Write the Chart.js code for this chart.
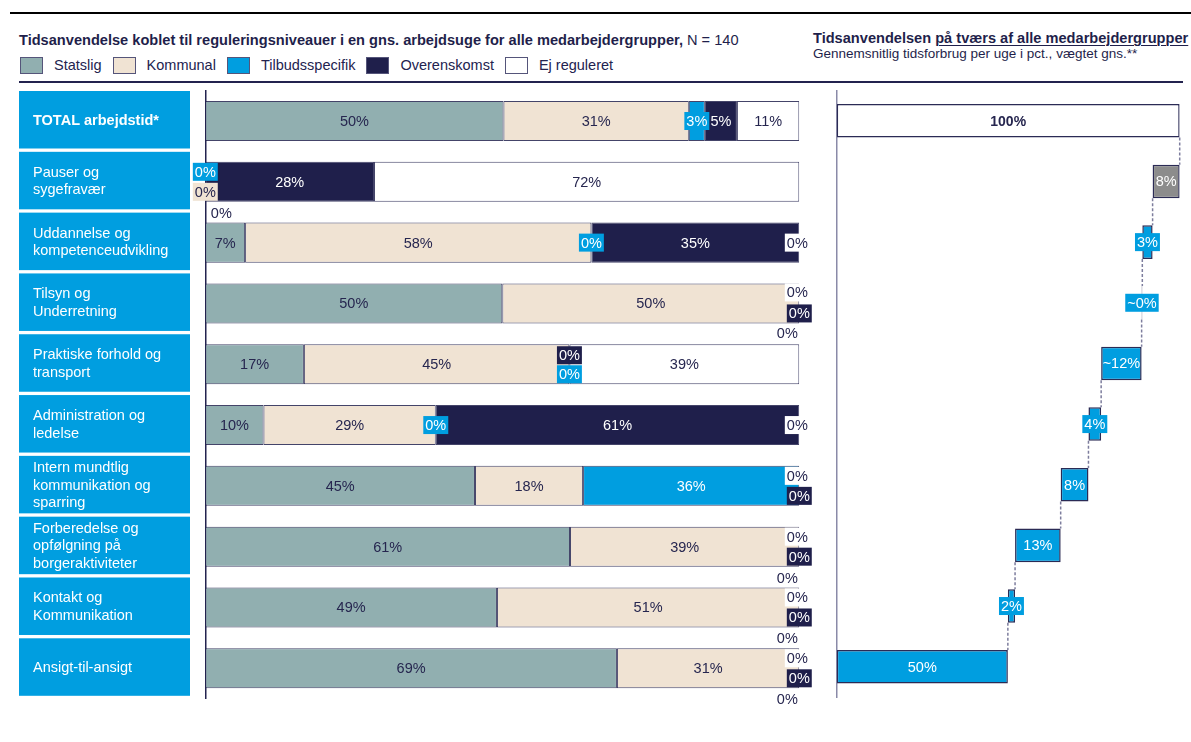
<!DOCTYPE html>
<html><head><meta charset="utf-8">
<script src="https://cdn.jsdelivr.net/npm/chart.js@4.4.1/dist/chart.umd.min.js"></script>
<style>
html,body{margin:0;padding:0;background:#fff;}
body{width:1191px;height:742px;position:relative;overflow:hidden;font-family:"Liberation Sans",Arial,sans-serif;color:#1f1f4b;}
#topline{position:absolute;left:10px;top:12px;width:1181px;height:2px;background:#000;}
#navyline{position:absolute;left:19px;top:81px;width:1164px;height:2px;background:#23234f;}
#title{position:absolute;left:19px;top:32px;font-size:14.6px;white-space:nowrap;line-height:17px;}
#legend{position:absolute;left:20px;top:57px;display:flex;align-items:center;font-size:14.5px;line-height:17px;color:#23234f;}
.lg{display:flex;align-items:center;margin-right:11px}
.sw{width:23px;height:17px;border:1px solid #55557a;margin-right:11px;box-sizing:border-box}
#rtitle{position:absolute;left:813px;top:30px;font-size:14.6px;font-weight:bold;white-space:nowrap;line-height:17px;}
#rtitle u{text-decoration-thickness:1px;text-underline-offset:2px}
#rsub{position:absolute;left:813px;top:46px;font-size:13.5px;white-space:nowrap;line-height:16px;}
canvas{position:absolute;top:0}
#left{left:0}
#right{left:812px}
</style></head>
<body>
<div id="topline"></div>
<div id="title"><b>Tidsanvendelse koblet til reguleringsniveauer i en gns. arbejdsuge for alle medarbejdergrupper,</b> N = 140</div>
<div id="legend"></div>
<div id="rtitle">Tidsanvendelsen <u>på tværs af alle medarbejdergrupper</u></div>
<div id="rsub">Gennemsnitlig tidsforbrug per uge i pct., vægtet gns.**</div>
<div id="navyline"></div>
<canvas id="left" width="820" height="742"></canvas>
<canvas id="right" width="379" height="742"></canvas>
<script>
// ---------- DATA ----------
const categories = [
  ["TOTAL arbejdstid*"],
  ["Pauser og","sygefravær"],
  ["Uddannelse og","kompetenceudvikling"],
  ["Tilsyn og","Underretning"],
  ["Praktiske forhold og","transport"],
  ["Administration og","ledelse"],
  ["Intern mundtlig","kommunikation og","sparring"],
  ["Forberedelse og","opfølgning på","borgeraktiviteter"],
  ["Kontakt og","Kommunikation"],
  ["Ansigt-til-ansigt"]
];
const seriesNames = ["Statslig","Kommunal","Tilbudsspecifik","Overenskomst","Ej reguleret"];
const statslig        = [50.2, 0,    6.7,  50.0, 16.6, 9.8,  45.4, 61.4, 49.1, 69.3];
const kommunal        = [31.2, 0,    58.3, 50.0, 44.7, 29.0, 18.2, 38.6, 50.9, 30.7];
const tilbudsspecifik = [2.7,  0,    0,    0,    0,    0,    36.4, 0,    0,    0];
const overenskomst    = [5.4,  28.4, 35.0, 0,    0,    61.2, 0,    0,    0,    0];
const ejReguleret     = [10.5, 71.6, 0,    0,    38.7, 0,    0,    0,    0,    0];

const stepLabels = ["100%","8%","3%","~0%","~12%","4%","8%","13%","2%","50%"];
const stepValues = [100, 7.9, 3.0, 0.2, 11.8, 3.7, 8.1, 13.3, 2.1, 49.9];

// ---------- STYLE ----------
const seriesData = [statslig, kommunal, tilbudsspecifik, overenskomst, ejReguleret];
const segColors = ["#91afb0","#f0e3d3","#009ee0","#1f1f4b","#ffffff"];
const segText   = ["#26264f","#26264f","#ffffff","#ffffff","#26264f"];
const FONT = '"Liberation Sans", Arial, sans-serif';
Chart.defaults.font.family = FONT;

// label placement for 0% segments: [dx, dy, style]
const zeroLabelPlacement = {
  "1-0":[16,31,"plain"], "1-1":[0,10,"box"], "1-2":[0,-10,"box"],
  "2-2":[0,0,"box"], "2-4":[-2,0,"box"],
  "3-2":[-12,30,"plain"], "3-3":[0,10,"box"], "3-4":[-2,-11,"box"],
  "4-2":[0,10,"box"], "4-3":[0,-9,"box"],
  "5-2":[0,0,"box"], "5-4":[-2,0,"box"],
  "6-3":[0,10,"box"], "6-4":[-2,-10,"box"],
  "7-2":[-12,31,"plain"], "7-3":[0,10,"box"], "7-4":[-2,-10,"box"],
  "8-2":[-12,31,"plain"], "8-3":[0,10,"box"], "8-4":[-2,-10,"box"],
  "9-2":[-12,31,"plain"], "9-3":[0,10,"box"], "9-4":[-2,-10,"box"]
};

// legend
const lg = document.getElementById('legend');
seriesNames.forEach((n,i)=>{
  const d=document.createElement('div'); d.className='lg';
  d.innerHTML='<div class="sw" style="background:'+segColors[i]+'"></div><span>'+n+'</span>';
  lg.appendChild(d);
});

// ---------- LEFT CHART ----------
const categoryBoxes = {
  id:'categoryBoxes',
  afterDraw(chart){
    const ctx=chart.ctx, y=chart.scales.y;
    ctx.save();
    chart.data.labels.forEach((lines,i)=>{
      const c=y.getPixelForValue(i);
      const top=c-30, h=57.5;
      ctx.fillStyle='#009ee0'; ctx.fillRect(19,top,171,h);
      ctx.fillStyle='#ffffff';
      ctx.font=(i===0?'bold ':'')+'14.5px '+FONT;
      ctx.textAlign='left'; ctx.textBaseline='middle';
      const mid=top+h/2, lh=17.7;
      lines.forEach((ln,k)=>ctx.fillText(ln,33,mid+(k-(lines.length-1)/2)*lh+1));
    });
    ctx.restore();
  }
};
const barLabels = {
  id:'barLabels',
  afterDatasetsDraw(chart){
    const ctx=chart.ctx;
    ctx.save();
    ctx.font='14.5px '+FONT;
    ctx.textAlign='center'; ctx.textBaseline='middle';
    chart.data.datasets.forEach((ds,si)=>{
      const meta=chart.getDatasetMeta(si);
      meta.data.forEach((el,ri)=>{
        const v=ds.data[ri];
        const txt=Math.round(v)+'%';
        const w=ctx.measureText(txt).width;
        let cx=(el.x+el.base)/2, cy=el.y, boxed=false, plain=false;
        if(v===0){
          const p=zeroLabelPlacement[ri+'-'+si]||[0,0,'box'];
          cx=el.x+p[0]; cy=el.y+p[1]; boxed=p[2]==='box'; plain=!boxed;
        } else if(w+2>Math.abs(el.x-el.base)) boxed=true;
        if(boxed){ctx.fillStyle=segColors[si]; ctx.fillRect(cx-w/2-2,cy-9,w+4,18);}
        ctx.fillStyle=plain?'#26264f':segText[si];
        ctx.fillText(txt,cx,cy+1);
      });
    });
    ctx.restore();
  }
};
new Chart(document.getElementById('left'),{
  type:'bar',
  data:{
    labels:categories,
    datasets:seriesNames.map((n,i)=>({
      label:n, data:seriesData[i], backgroundColor:segColors[i],
      borderColor:'rgba(35,35,79,0.85)', borderWidth:1, borderSkipped:false,
      barPercentage:0.658, categoryPercentage:1
    }))
  },
  options:{
    indexAxis:'y', responsive:false, animation:false, events:[],
    layout:{padding:{left:0,right:20.7,top:90.6,bottom:43.3}},
    plugins:{legend:{display:false},tooltip:{enabled:false}},
    scales:{
      x:{stacked:true,min:0,max:100,display:false},
      y:{stacked:true,grid:{display:false,drawTicks:false},ticks:{display:false},
         border:{display:true,color:'#23234f',width:1.5},
         afterFit(s){s.width=205.3;}}
    }
  },
  plugins:[categoryBoxes,barLabels]
});

// ---------- RIGHT CHART (waterfall) ----------
const ranges=[]; let level=100;
stepValues.forEach((v,i)=>{
  if(i===0){ranges.push([0,v]);}
  else{const lo=Math.max(0,Math.round((level-v)*10)/10); ranges.push([lo,level]); level=lo;}
});
const stepColors=stepValues.map((v,i)=>i===0?'#ffffff':(i===1?'#8c8c8c':'#009ee0'));
const connectors={
  id:'connectors',
  beforeDatasetsDraw(chart){
    const ctx=chart.ctx, meta=chart.getDatasetMeta(0), xs=chart.scales.x;
    ctx.save(); ctx.strokeStyle='#7d7d9d'; ctx.lineWidth=1.5; ctx.setLineDash([3,2]);
    for(let i=0;i<meta.data.length-1;i++){
      const a=meta.data[i], b=meta.data[i+1];
      const x=xs.getPixelForValue(ranges[i+1][1]);
      ctx.beginPath(); ctx.moveTo(x,a.y+a.height/2); ctx.lineTo(x,b.y-b.height/2); ctx.stroke();
    }
    ctx.restore();
  }
};
const stepLabelPlugin={
  id:'stepLabels',
  afterDatasetsDraw(chart){
    const ctx=chart.ctx, meta=chart.getDatasetMeta(0);
    ctx.save(); ctx.textAlign='center'; ctx.textBaseline='middle';
    meta.data.forEach((el,i)=>{
      const txt=stepLabels[i];
      ctx.font=(i===0?'bold 14px ':'14.5px ')+FONT;
      const w=ctx.measureText(txt).width;
      const cx=(el.x+el.base)/2, cy=el.y;
      if(i>0 && w+2>Math.abs(el.x-el.base)){ctx.fillStyle=stepColors[i]; ctx.fillRect(cx-w/2-2,cy-9,w+4,18);}
      ctx.fillStyle=i===0?'#26264f':'#ffffff';
      ctx.fillText(txt,cx,cy+1);
    });
    ctx.restore();
  }
};
new Chart(document.getElementById('right'),{
  type:'bar',
  data:{
    labels:stepLabels,
    datasets:[{data:ranges,backgroundColor:stepColors,borderColor:'#2b2b55',borderWidth:1.5,borderSkipped:false,
      barPercentage:0.553,categoryPercentage:1}]
  },
  options:{
    indexAxis:'y', responsive:false, animation:false, events:[],
    layout:{padding:{left:0,right:11.3,top:90.5,bottom:45}},
    plugins:{legend:{display:false},tooltip:{enabled:false}},
    scales:{
      x:{min:0,max:100,display:false},
      y:{grid:{display:false,drawTicks:false},ticks:{display:false},
         border:{display:true,color:'#8a8aa8',width:1.5},
         afterFit(s){s.width=24.7;}}
    }
  },
  plugins:[connectors,stepLabelPlugin]
});
</script>
</body></html>
